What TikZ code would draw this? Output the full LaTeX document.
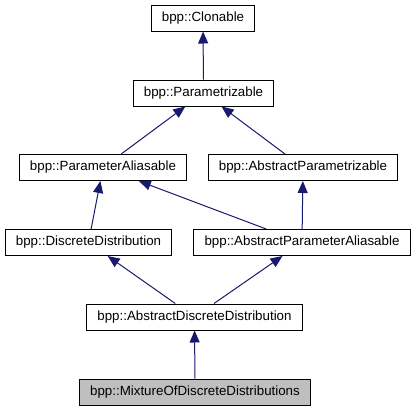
\documentclass[tikz,border=0pt]{standalone}
\usepackage{fontspec}
\setmainfont{Liberation Sans}
\usepackage{tikz}
\usetikzlibrary{arrows.meta}

\definecolor{edgeblue}{RGB}{25,25,112}
\definecolor{curgray}{RGB}{191,191,191}

\tikzset{
    classbox/.style={draw=black, line width=0.75pt, fill=white, font=\fontsize{10pt}{12pt}\selectfont,
        inner xsep=8pt, inner ysep=0pt, minimum height=19.5pt},
    inherit/.style={draw=edgeblue, line width=0.75pt, -{Triangle[length=9pt, width=7.5pt]}, shorten >=0pt}
}

\begin{document}
\begin{tikzpicture}[x=0.75pt, y=-0.75pt]

    % Canvas
    \useasboundingbox (0, 0) rectangle (415, 411);

    % Classes
    \node[classbox] (clonable) at (203, 18) {bpp::Clonable};
    \node[classbox] (param) at (203.5, 93) {bpp::Parametrizable};
    \node[classbox] (paramalias) at (103, 167.5) {bpp::ParameterAliasable};
    \node[classbox] (absparam) at (303, 167.5) {bpp::AbstractParametrizable};
    \node[classbox] (discdist) at (88.5, 242.5) {bpp::DiscreteDistribution};
    \node[classbox] (absparamalias) at (302, 242.5) {bpp::AbstractParameterAliasable};
    \node[classbox] (absdiscdist) at (194.5, 317) {bpp::AbstractDiscreteDistribution};
    \node[classbox, fill=curgray] (mixture) at (195, 392) {bpp::MixtureOfDiscreteDistributions};

    % Inheritance arrows
    \draw[inherit] (param) -- (clonable);
    \draw[inherit] (paramalias) -- (param);
    \draw[inherit] (absparam) -- (param);
    \draw[inherit] (discdist) -- (paramalias);
    \draw[inherit] (absparamalias) -- (paramalias);
    \draw[inherit] (absparamalias) -- (absparam);
    \draw[inherit] (absdiscdist) -- (discdist);
    \draw[inherit] (absdiscdist) -- (absparamalias);
    \draw[inherit] (mixture) -- (absdiscdist);
\end{tikzpicture}
\end{document}
